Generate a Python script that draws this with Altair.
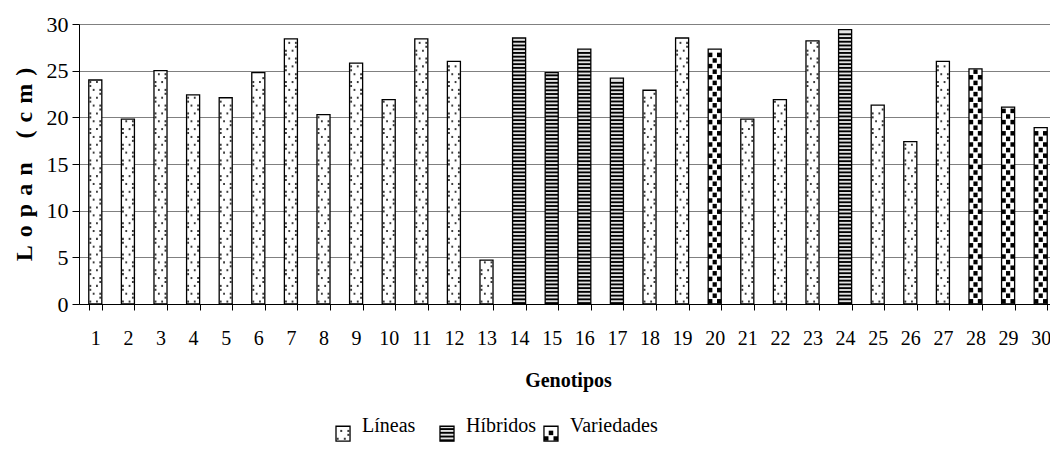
import altair as alt
import pandas as pd

# Data: stem length (Lopan, cm) for 30 genotypes, grouped by type
genotipos = list(range(1, 31))
lopan = [24.0, 19.8, 25.0, 22.4, 22.1, 24.8, 28.4, 20.3, 25.8, 21.9,
         28.4, 26.0, 4.7, 28.5, 24.8, 27.3, 24.2, 22.9, 28.5, 27.3,
         19.8, 21.9, 28.2, 29.4, 21.3, 17.4, 26.0, 25.2, 21.1, 18.9]
hibridos = [14, 15, 16, 17, 24]
variedades = [20, 28, 29, 30]
series = ["Líneas", "Híbridos", "Variedades"]
y_ticks = [0, 5, 10, 15, 20, 25, 30]


def tipo_de(g):
    if g in hibridos:
        return "Híbridos"
    if g in variedades:
        return "Variedades"
    return "Líneas"


bars_df = pd.DataFrame({
    "g": genotipos,
    "y0": [0.0] * len(genotipos),
    "y1": lopan,
    "serie": [tipo_de(g) for g in genotipos],
})

# Legend swatches sit below the plot, expressed on the same y scale
LEG_Y0, LEG_Y1 = -14.7, -13.1
leg_df = pd.DataFrame({"serie": series, "y0": [LEG_Y0] * 3, "y1": [LEG_Y1] * 3,
                       "yt": [LEG_Y1 + 0.05] * 3})

FONT = "Liberation Serif"
Y_SCALE = alt.Scale(domain=[0, 30])
X_SCALE = alt.Scale(domain=genotipos, range=[0, 978], paddingInner=0.6, paddingOuter=0.3)
LEG_SCALE = alt.Scale(domain=series, range=[257, 479], paddingInner=0.865,
                      paddingOuter=0, align=0)
FILL_SCALE = alt.Scale(domain=series, range=["white", "#e4e4e4", "white"])

STRIPE = 0.4   # pitch of the horizontal hatching
DOT = 0.42     # pitch of the dotted fill
SQ = 0.6       # pitch of the checker fill

# spaced-out axis title
SP = "\u2004"
y_title = SP.join("Lopan") + SP * 3 + SP.join("(cm)")

x_axis = alt.Axis(title="Genotipos", labelAngle=0, tickBand="extent", tickSize=6,
                  labelPadding=18, grid=False, domainColor="black", tickColor="black",
                  labelFont=FONT, labelFontSize=20, labelColor="black",
                  titleFont=FONT, titleFontSize=20, titleFontWeight="bold",
                  titleColor="black", titlePadding=22)
y_axis = alt.Axis(values=y_ticks, title=y_title,
                  grid=True, gridColor="#808080", gridWidth=1, tickSize=7,
                  labelPadding=4, domainColor="black", tickColor="black",
                  labelFont=FONT, labelFontSize=22, labelColor="black",
                  titleFont=FONT, titleFontSize=24, titleFontWeight="bold",
                  titleColor="black", titlePadding=10)


def yq(field):
    return alt.Y(field, type="quantitative", scale=Y_SCALE, axis=y_axis)


def pattern_layers(df, x_enc):
    base = alt.Chart(df)
    fill = base.mark_bar(strokeWidth=0).encode(
        x=x_enc, y=yq("y1"), y2="y0",
        color=alt.Color("serie:N", scale=FILL_SCALE, legend=None))

    stripes = (base.transform_filter(alt.datum.serie == "Híbridos")
               .transform_calculate(k=f"sequence(datum.y0, datum.y1 - {STRIPE / 2}, {STRIPE})")
               .transform_flatten(["k"])
               .transform_calculate(k2=f"datum.k + {STRIPE / 2}")
               .mark_bar(color="black", strokeWidth=0)
               .encode(x=x_enc, y=yq("k"), y2="k2"))

    dots = (base.transform_filter(alt.datum.serie == "Líneas")
            .transform_calculate(k=f"sequence(datum.y0 + 0.15, datum.y1 - 0.3, {DOT})")
            .transform_flatten(["k"])
            .transform_calculate(fila=f"round((datum.k - datum.y0 - 0.15) / {DOT})")
            .transform_calculate(cols="[[0, 2], [3], [1, 3], [0]][datum.fila % 4]")
            .transform_flatten(["cols"], as_=["col"])
            .transform_calculate(k2="datum.k + 0.22")
            .mark_bar(color="#3a3a3a", strokeWidth=0)
            .encode(x=x_enc, y=yq("k"), y2="k2",
                    xOffset=alt.XOffset("col:O", scale=alt.Scale(
                        domain=[0, 1, 2, 3], paddingInner=0.45, paddingOuter=0.2))))

    checks = (base.transform_filter(alt.datum.serie == "Variedades")
              .transform_calculate(k=f"sequence(datum.y0 + 0.05, datum.y1 - 0.5, {SQ})")
              .transform_flatten(["k"])
              .transform_calculate(fila=f"round((datum.k - datum.y0 - 0.05) / {SQ})")
              .transform_calculate(cols="datum.fila % 2 == 0 ? [0, 2] : [1]")
              .transform_flatten(["cols"], as_=["col"])
              .transform_calculate(k2="datum.k + 0.48")
              .mark_bar(color="black", strokeWidth=0)
              .encode(x=x_enc, y=yq("k"), y2="k2",
                      xOffset=alt.XOffset("col:O", scale=alt.Scale(
                          domain=[0, 1, 2], paddingInner=0.05, paddingOuter=0.0))))

    outline = base.mark_bar(fillOpacity=0, stroke="black", strokeWidth=1.3).encode(
        x=x_enc, y=yq("y1"), y2="y0")
    return [fill, stripes, dots, checks, outline]


main = alt.layer(*pattern_layers(bars_df, alt.X("g:O", scale=X_SCALE, axis=x_axis))
                 ).resolve_scale(xOffset="independent")

leg_x = alt.X("serie:N", scale=LEG_SCALE, axis=None)
leg_text = alt.Chart(leg_df).mark_text(
    align="left", baseline="middle", dx=19, font=FONT, fontSize=20, color="black"
).encode(x=leg_x, y=yq("yt"), text="serie:N")
legend = alt.layer(*pattern_layers(leg_df, leg_x), leg_text).resolve_scale(xOffset="independent")

chart = (alt.layer(main, legend)
         .resolve_scale(x="independent", xOffset="independent")
         .properties(width=971, height=280,
                     padding={"left": 79, "top": 24, "right": 0, "bottom": 170},
                     autosize=alt.AutoSizeParams(type="none"),
                     background="white")
         .configure_view(stroke=None))

chart.save("out.html", embed_options={"renderer": "svg", "actions": False})
